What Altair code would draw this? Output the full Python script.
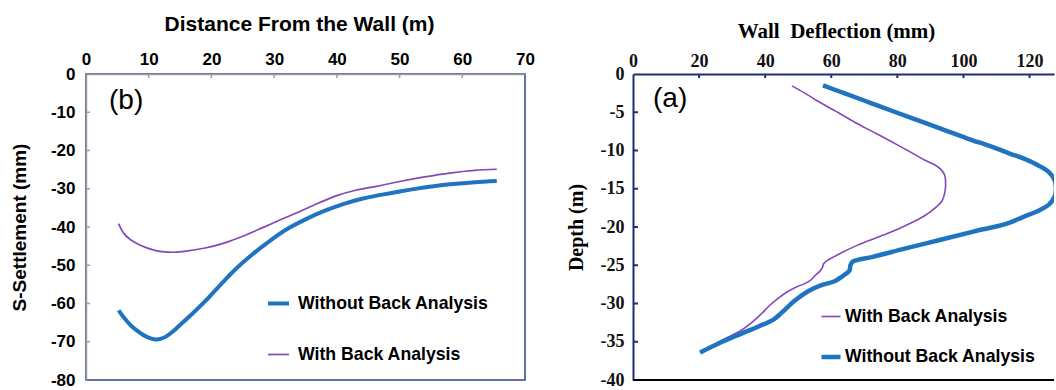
import altair as alt
import pandas as pd

# ---------------- panel (b): ground settlement behind the wall ----------------
dist_without = [5.2, 6.2, 7.2, 8.3, 9.3, 10.3, 11.2, 12.0, 12.8, 13.8, 15.0, 17.0, 19.0,
                21.5, 24.0, 26.5, 29.0, 32.0, 35.0, 38.0, 41.0, 44.0, 47.0, 50.0, 53.0,
                56.0, 59.0, 62.0, 65.5]
settle_without = [-61.8, -64.0, -65.8, -67.3, -68.4, -69.1, -69.4, -69.2, -68.6, -67.4,
                  -65.6, -62.6, -59.4, -55.0, -50.8, -47.2, -44.0, -40.6, -38.0, -35.8,
                  -34.0, -32.6, -31.6, -30.7, -29.9, -29.2, -28.7, -28.3, -28.0]
dist_with = [5.2, 6.0, 7.0, 8.2, 9.6, 11.0, 12.5, 14.0, 16.0, 19.0, 22.0, 25.0, 28.0,
             31.0, 34.0, 37.0, 40.0, 43.0, 46.5, 50.0, 54.0, 58.0, 62.0, 65.5]
settle_with = [-39.1, -41.6, -43.2, -44.4, -45.4, -46.1, -46.5, -46.6, -46.3, -45.5,
               -44.2, -42.4, -40.3, -38.1, -36.0, -33.8, -31.8, -30.4, -29.3, -28.1,
               -26.9, -25.9, -25.2, -24.9]

# ---------------- panel (a): wall deflection profile ----------------
defl_without = [57.5, 64.5, 72.0, 79.5, 86.5, 93.5, 101.0, 108.5, 114.0, 118.5, 122.0,
                125.5, 127.5, 128.0, 127.5, 126.0, 123.0, 118.0, 112.9, 103.0, 92.8, 82.5,
                72.6, 66.6, 65.8, 65.5, 63.5, 61.0, 57.0, 53.0, 49.0, 45.0, 42.5, 38.0,
                33.0, 27.0, 20.3]
depth_without = [-1.5, -2.6, -3.8, -5.0, -6.1, -7.2, -8.4, -9.5, -10.4, -11.1, -11.8,
                 -12.7, -13.8, -15.0, -16.1, -17.0, -17.8, -18.7, -19.6, -20.6, -21.7,
                 -22.8, -23.9, -24.5, -25.0, -25.7, -26.4, -27.1, -27.6, -28.4, -29.6,
                 -31.2, -32.1, -33.0, -33.9, -35.0, -36.4]
defl_with = [48.1, 52.0, 55.7, 62.7, 67.5, 72.8, 78.0, 82.9, 86.0, 88.0, 91.0, 93.0, 94.3,
             94.6, 94.3, 93.5, 92.0, 88.0, 83.0, 77.9, 72.5, 67.8, 62.5, 58.7, 57.7, 57.3,
             56.5, 55.0, 53.6, 51.5, 49.6, 46.6, 44.0, 41.5, 37.5, 32.4, 26.0, 20.3]
depth_with = [-1.55, -2.5, -3.5, -5.2, -6.4, -7.6, -8.8, -9.95, -10.7, -11.2, -11.8, -12.4,
              -13.2, -14.5, -15.6, -16.6, -17.3, -18.6, -19.7, -20.7, -21.6, -22.4, -23.5,
              -24.4, -24.8, -25.3, -25.8, -26.4, -27.0, -27.5, -27.8, -28.5, -29.3, -30.2,
              -31.9, -33.6, -35.0, -36.4]

# axis tick values
dist_ticks = [0, 10, 20, 30, 40, 50, 60, 70]
settle_ticks = [0, -10, -20, -30, -40, -50, -60, -70, -80]
defl_ticks = [0, 20, 40, 60, 80, 100, 120]
depth_ticks = [0, -5, -10, -15, -20, -25, -30, -35, -40]

WITHOUT = "Without Back Analysis"
WITH = "With Back Analysis"

BLUE = "#1f74c2"
PURPLE = "#8448b8"
GRAY = "#9c9c9c"
NAVY = "#2b4488"
DARK_NAVY = "#1d2f70"

SANS = "Liberation Sans"
SERIF = "Liberation Serif"


def series_frame(pairs):
    rows = []
    for name, xs, ys in pairs:
        for i, (x, y) in enumerate(zip(xs, ys)):
            rows.append({"x": x, "y": y, "series": name, "weight": name, "idx": i})
    return pd.DataFrame(rows)


df_b = series_frame([(WITHOUT, dist_without, settle_without),
                     (WITH, dist_with, settle_with)])
df_a = series_frame([(WITH, defl_with, depth_with),
                     (WITHOUT, defl_without, depth_without)])


def legend(x, y, size, offset, row_gap):
    return alt.Legend(orient="none", legendX=x, legendY=y, title=None,
                      symbolType="stroke", symbolSize=size, symbolStrokeWidth=2.5,
                      labelFont=SANS, labelFontSize=17.7, labelFontWeight="bold",
                      labelColor="black", labelOffset=offset, rowPadding=row_gap,
                      labelLimit=400)


def axis(orient, values, title, font, title_size, title_pad, label_size, label_pad,
         extent, color, width, label_color="black", title_x=None):
    extra = {} if title_x is None else {"titleX": title_x, "titleAlign": "center"}
    return alt.Axis(
        orient=orient, values=values, title=title,
        titleFont=font, titleFontSize=title_size, titleFontWeight="bold",
        titleColor="black", titlePadding=title_pad,
        labelFont=font, labelFontSize=label_size, labelFontWeight="bold",
        labelColor=label_color, labelPadding=label_pad, labelFlush=False,
        labelOverlap=False, labelExpr="'' + datum.value",
        minExtent=extent, maxExtent=extent,
        ticks=False, tickSize=0, grid=False, domainColor=color, domainWidth=width,
        **extra)


# ---------------- panel (b) ----------------
W_B, H_B = 439, 306
xs_b = alt.Scale(domain=[0, 70], nice=False, zero=False)
ys_b = alt.Scale(domain=[-80, 0], nice=False, zero=False)
ax_bx = axis("top", dist_ticks, "Distance From the Wall (m)", SANS, 21, 16, 17, 6, 24,
             GRAY, 1.5, title_x=213)
ax_by = axis("left", settle_ticks, "S-Settlement (mm)", SANS, 19, 19, 17, 11, 38, GRAY, 1.5)

lines_b = alt.Chart(df_b).mark_line(interpolate="catmull-rom", strokeJoin="round",
                                    clip=True).encode(
    x=alt.X("x:Q", scale=xs_b, axis=ax_bx),
    y=alt.Y("y:Q", scale=ys_b, axis=ax_by),
    color=alt.Color("series:N", scale=alt.Scale(domain=[WITHOUT, WITH], range=[BLUE, PURPLE]),
                    legend=legend(180, 217, 441, 7, 30)),
    strokeWidth=alt.StrokeWidth("weight:N", scale=alt.Scale(domain=[WITHOUT, WITH], range=[4, 1.7]),
                                legend=None),
    order=alt.Order("idx:Q"),
)

ticks_bx = alt.Chart(pd.DataFrame({"x": dist_ticks[1:-1]})).mark_rule(
    color=GRAY, strokeWidth=1.5).encode(
    x=alt.X("x:Q", scale=xs_b, axis=ax_bx), y=alt.value(0), y2=alt.value(4))
ticks_by = alt.Chart(pd.DataFrame({"y": settle_ticks[1:-1]})).mark_rule(
    color=GRAY, strokeWidth=1.5).encode(
    y=alt.Y("y:Q", scale=ys_b, axis=ax_by), x=alt.value(0), x2=alt.value(4))
tag_b = alt.Chart(pd.DataFrame({"t": ["(b)"]})).mark_text(
    align="left", baseline="middle", font=SANS, fontSize=28, color="black").encode(
    text="t:N", x=alt.value(23), y=alt.value(27))

panel_b = alt.layer(lines_b, ticks_bx, ticks_by, tag_b).properties(
    width=W_B, height=H_B,
    view=alt.ViewBackground(stroke=NAVY, strokeWidth=1.5, strokeOpacity=1))

# ---------------- panel (a) ----------------
W_A, H_A = 421, 306
xs_a = alt.Scale(domain=[0, 127.4], nice=False, zero=False)
ys_a = alt.Scale(domain=[-40, 0], nice=False, zero=False)
ax_ax = axis("top", defl_ticks, "Wall\u00a0 Deflection (mm)", SERIF, 21, 9, 18, 4, 24,
             DARK_NAVY, 2, "#111111", title_x=203)
ax_ay = axis("left", depth_ticks, "Depth (m)", SERIF, 20, 14, 18, 9, 33,
             DARK_NAVY, 2, "#111111")

lines_a = alt.Chart(df_a).mark_line(interpolate="catmull-rom", strokeJoin="round",
                                    clip=True).encode(
    x=alt.X("x:Q", scale=xs_a, axis=ax_ax),
    y=alt.Y("y:Q", scale=ys_a, axis=ax_ay),
    color=alt.Color("series:N", scale=alt.Scale(domain=[WITH, WITHOUT], range=[PURPLE, BLUE]),
                    legend=legend(186, 232, 361, 2, 19)),
    strokeWidth=alt.StrokeWidth("weight:N", scale=alt.Scale(domain=[WITH, WITHOUT], range=[1.6, 4.5]),
                                legend=None),
    order=alt.Order("idx:Q"),
)

ticks_ax = alt.Chart(pd.DataFrame({"x": defl_ticks[1:]})).mark_rule(
    color=DARK_NAVY, strokeWidth=2).encode(
    x=alt.X("x:Q", scale=xs_a, axis=ax_ax), y=alt.value(0), y2=alt.value(4))
ticks_ay = alt.Chart(pd.DataFrame({"y": depth_ticks[1:-1]})).mark_rule(
    color=DARK_NAVY, strokeWidth=2).encode(
    y=alt.Y("y:Q", scale=ys_a, axis=ax_ay), x=alt.value(0), x2=alt.value(5))
floor_a = alt.Chart(pd.DataFrame({"y": [depth_ticks[-1]]})).mark_rule(
    color="black", strokeWidth=2).encode(
    y=alt.Y("y:Q", scale=ys_a, axis=ax_ay), x=alt.value(0), x2=alt.value(W_A))
tag_a = alt.Chart(pd.DataFrame({"t": ["(a)"]})).mark_text(
    align="left", baseline="middle", font=SANS, fontSize=28, color="black").encode(
    text="t:N", x=alt.value(20), y=alt.value(25))

panel_a = alt.layer(lines_a, ticks_ax, ticks_ay, floor_a, tag_a).properties(
    width=W_A, height=H_A,
    view=alt.ViewBackground(strokeOpacity=0))

chart = alt.hconcat(panel_b, panel_a, spacing=108, bounds="flush").resolve_scale(
    color="independent", strokeWidth="independent"
).properties(
    padding={"left": 9, "top": 12, "right": 0, "bottom": 0}
).configure(background="white").configure_axis(labelOverlap=False)

chart.save("out.html", embed_options={"renderer": "svg", "actions": False})
